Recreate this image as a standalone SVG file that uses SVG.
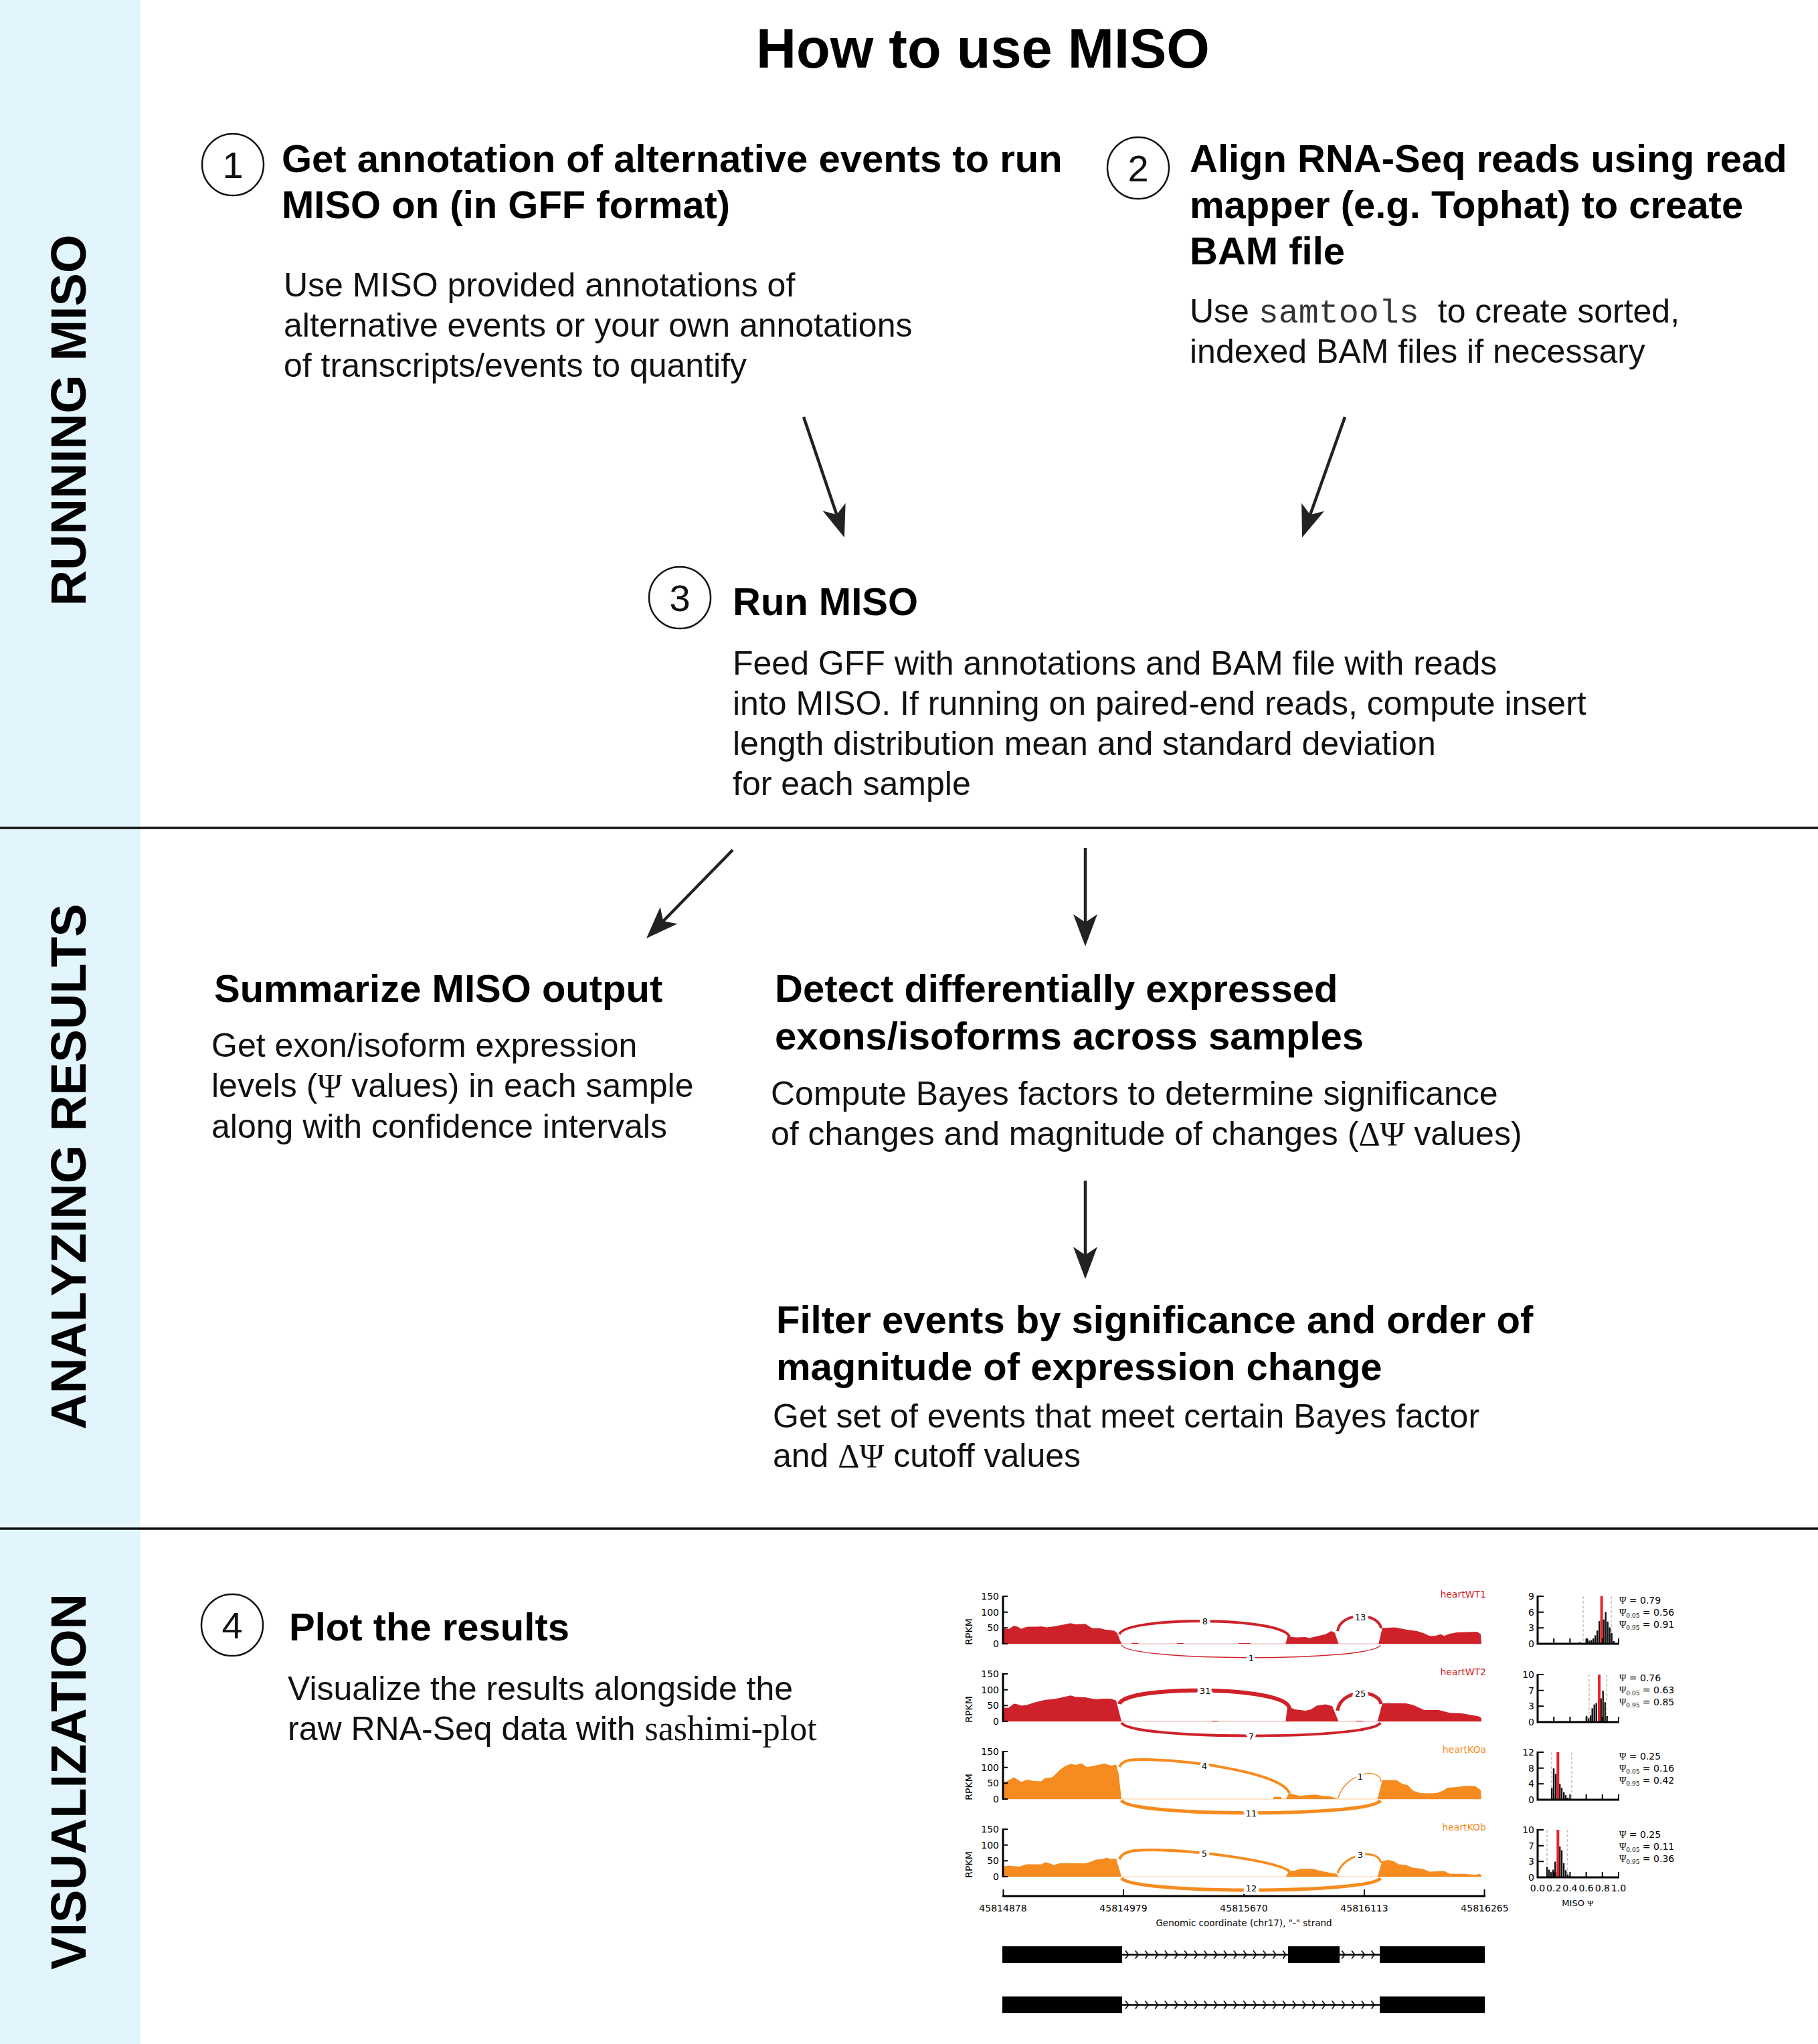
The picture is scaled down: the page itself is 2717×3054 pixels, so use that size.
<svg xmlns="http://www.w3.org/2000/svg" width="2717" height="3054" viewBox="0 0 2717 3054">
<style>
.h{font-family:"Liberation Sans",Arial,Helvetica,sans-serif;font-weight:bold;font-size:58px;fill:#000}
.t{font-family:"Liberation Sans",Arial,Helvetica,sans-serif;font-weight:bold;font-size:83px;fill:#000}
.b{font-family:"Liberation Sans",Arial,Helvetica,sans-serif;font-size:50px;fill:#111}
.side{font-family:"Liberation Sans",Arial,Helvetica,sans-serif;font-weight:bold;font-size:74px;fill:#000;text-anchor:middle}
.num{font-family:"Liberation Sans",Arial,Helvetica,sans-serif;font-size:56px;fill:#111;text-anchor:middle}
.mono{font-family:"Liberation Mono","Courier New",monospace;fill:#333}
.gr{font-family:"Liberation Serif","DejaVu Serif",serif}
.sash{font-family:"Liberation Serif","DejaVu Serif",serif;font-size:52px}
.circ{fill:none;stroke:#111;stroke-width:2.5}
.arr{stroke:#222;stroke-width:4.5;fill:none;marker-end:url(#ah)}
.sa{font-family:"DejaVu Sans",sans-serif;font-size:14px;fill:#000}
.ra{text-anchor:end}
.mid{text-anchor:middle}
.jl{font-family:"DejaVu Sans",sans-serif;font-size:13px;fill:#000;text-anchor:middle;dominant-baseline:central;paint-order:stroke;stroke:#fff;stroke-width:9px;stroke-linejoin:round}
.ax{stroke:#000;stroke-width:3;fill:none}
.tk{stroke:#000;stroke-width:2;fill:none}
.red{fill:#cf2129}
.org{fill:#f68b1f}
.redl{stroke:#cf2129;fill:none}
.orgl{stroke:#f68b1f;fill:none}
.zr{stroke:#f5c9c9;stroke-width:1.5}
.zo{stroke:#fcdcbd;stroke-width:1.5}
.bar{fill:#111}
.ci{stroke:#c4c4c4;stroke-width:1.6;stroke-dasharray:4 3}
.mean{fill:#e8232a}
.sub{font-family:"DejaVu Serif",serif;font-size:9px}
</style>
<defs>
<marker id="ah" markerUnits="userSpaceOnUse" viewBox="0 0 48 40" refX="12" refY="20" markerWidth="48" markerHeight="40" orient="auto">
<path d="M0,2 L48,20 L0,38 L12,20 Z" fill="#222"/>
</marker>
<pattern id="chev" patternUnits="userSpaceOnUse" x="1677" y="2908" width="14.7" height="75">
<rect x="0" y="11.3" width="14.7" height="2.5" fill="#000"/>
<path d="M5,6.5 L9.5,12.5 L5,18.5" fill="none" stroke="#000" stroke-width="1.6"/>
</pattern>
</defs>

<rect id="band" x="0" y="0" width="210" height="3054" fill="#e2f4fc"/>
<rect x="210" y="0" width="2507" height="3054" fill="#fff"/>

<g id="separators">
<line x1="0" y1="1237" x2="2717" y2="1237" stroke="#111" stroke-width="3.5"/>
<line x1="0" y1="2284" x2="2717" y2="2284" stroke="#111" stroke-width="3.5"/>
</g>

<g id="section-labels">
<text class="side" transform="translate(128,628) rotate(-90)">RUNNING MISO</text>
<text class="side" transform="translate(128,1743) rotate(-90)">ANALYZING RESULTS</text>
<text class="side" transform="translate(128,2662) rotate(-90)">VISUALIZATION</text>
</g>

<g id="title">
<text class="t" x="1469" y="101" text-anchor="middle">How to use MISO</text>
</g>

<g id="step1">
<circle class="circ" cx="348" cy="246" r="46"/>
<text class="num" x="348" y="266">1</text>
<text class="h" x="421" y="257">Get annotation of alternative events to run</text>
<text class="h" x="421" y="326">MISO on (in GFF format)</text>
<text class="b" x="424" y="443">Use MISO provided annotations of</text>
<text class="b" x="424" y="503">alternative events or your own annotations</text>
<text class="b" x="424" y="563">of transcripts/events to quantify</text>
</g>

<g id="step2">
<circle class="circ" cx="1701" cy="251" r="46"/>
<text class="num" x="1701" y="271">2</text>
<text class="h" x="1778" y="257">Align RNA-Seq reads using read</text>
<text class="h" x="1778" y="326">mapper (e.g. Tophat) to create</text>
<text class="h" x="1778" y="395">BAM file</text>
<text class="b" x="1778" y="482">Use <tspan class="mono">samtools</tspan><tspan dx="14"> to create sorted,</tspan></text>
<text class="b" x="1778" y="542">indexed BAM files if necessary</text>
</g>

<g id="step3">
<circle class="circ" cx="1016" cy="893" r="46"/>
<text class="num" x="1016" y="913">3</text>
<text class="h" x="1095" y="919">Run MISO</text>
<text class="b" x="1095" y="1008">Feed GFF with annotations and BAM file with reads</text>
<text class="b" x="1095" y="1068">into MISO. If running on paired-end reads, compute insert</text>
<text class="b" x="1095" y="1128">length distribution mean and standard deviation</text>
<text class="b" x="1095" y="1188">for each sample</text>
</g>

<g id="summarize">
<text class="h" x="320" y="1497">Summarize MISO output</text>
<text class="b" x="316" y="1579">Get exon/isoform expression</text>
<text class="b" x="316" y="1639">levels (<tspan class="gr">Ψ</tspan> values) in each sample</text>
<text class="b" x="316" y="1700">along with confidence intervals</text>
</g>

<g id="detect">
<text class="h" x="1158" y="1497">Detect differentially expressed</text>
<text class="h" x="1158" y="1568">exons/isoforms across samples</text>
<text class="b" x="1152" y="1651">Compute Bayes factors to determine significance</text>
<text class="b" x="1152" y="1711">of changes and magnitude of changes (<tspan class="gr">ΔΨ</tspan> values)</text>
</g>

<g id="filter">
<text class="h" x="1160" y="1992">Filter events by significance and order of</text>
<text class="h" x="1160" y="2062">magnitude of expression change</text>
<text class="b" x="1155" y="2133">Get set of events that meet certain Bayes factor</text>
<text class="b" x="1155" y="2192">and <tspan class="gr">ΔΨ</tspan> cutoff values</text>
</g>

<g id="step4">
<circle class="circ" cx="347" cy="2428" r="46"/>
<text class="num" x="347" y="2448">4</text>
<text class="h" x="432" y="2451">Plot the results</text>
<text class="b" x="430" y="2540">Visualize the results alongside the</text>
<text class="b" x="430" y="2600">raw RNA-Seq data with <tspan class="sash">sashimi-plot</tspan></text>
</g>

<g id="connectors">
<line class="arr" x1="1201" y1="623" x2="1250.4" y2="768.9"/>
<line class="arr" x1="2010" y1="623" x2="1958.1" y2="769.1"/>
<line class="arr" x1="1095" y1="1270" x2="991.2" y2="1376.3"/>
<line class="arr" x1="1622" y1="1267" x2="1622" y2="1378"/>
<line class="arr" x1="1622" y1="1764" x2="1622" y2="1875"/>
</g>

<g id="sashimi-plot">
<!-- panel 1 heartWT1 -->
<g id="panel-wt1">
<line class="zr" x1="1499" y1="2456" x2="2214" y2="2456"/>
<path class="red" d="M1499,2456 L1499,2433 L1507,2434.2 L1515.4,2429 L1520.8,2430.5 L1526.3,2433.8 L1531.7,2431.4 L1537.2,2430.5 L1550.8,2430.5 L1556.2,2430 L1564.4,2431.4 L1575.3,2430 L1586.2,2428.1 L1599.8,2425.3 L1608,2427.1 L1621.6,2426.2 L1632.5,2432.8 L1643.4,2432.8 L1651.6,2434.7 L1665.2,2436.6 L1669.6,2439.9 L1676.1,2456 Z M1921.4,2456 L1924.1,2445.6 L1937.7,2446.5 L1951.3,2446.1 L1956.8,2447.5 L1965,2445.6 L1981.3,2441.8 L1989.5,2437.1 L1994.9,2439.4 L2000.4,2456 Z M2060.3,2456 L2065.8,2432.4 L2084.8,2431.4 L2101.2,2434.7 L2117.5,2437.1 L2128.5,2440.4 L2136.6,2444.2 L2144.8,2444.2 L2153,2441.8 L2158.4,2444.2 L2166.6,2440.9 L2177.5,2439 L2193.8,2438.5 L2207.5,2438 L2212.9,2441.8 L2214,2456 Z M1690,2456 L1692,2454.8 L1700,2454.8 L1702,2456 Z M1758,2456 L1760,2455 L1768,2455 L1770,2456 Z M1850,2456 L1852,2455 L1868,2455 L1870,2456 Z"/>
<path class="redl" stroke-width="4" d="M1673,2442 C1680,2415 1920,2415 1927,2446"/>
<path class="redl" stroke-width="4" d="M1999,2437 C2003,2408 2060,2408 2064,2433"/>
<path class="redl" stroke-width="1.5" d="M1676,2458 C1690,2483 2050,2483 2063,2458"/>
<text class="jl" x="1801" y="2422">8</text>
<text class="jl" x="2033" y="2416">13</text>
<text class="jl" x="1870" y="2477">1</text>
<text class="sa ra" x="2221" y="2387" fill="#cf2129" style="fill:#cf2129">heartWT1</text>
</g>
<!-- panel 2 heartWT2 -->
<g id="panel-wt2">
<line class="zr" x1="1499" y1="2572" x2="2214" y2="2572"/>
<path class="red" d="M1499,2572 L1499,2551.4 L1507.2,2551.7 L1515.4,2545.5 L1520.8,2546.5 L1526.3,2548.4 L1534.4,2547.4 L1545.3,2544.1 L1561.7,2539.8 L1572.6,2538.9 L1583.5,2537 L1599.8,2533.2 L1608,2535.6 L1621.6,2536.1 L1632.5,2538 L1638,2538.9 L1648.9,2538 L1659.8,2538 L1668,2540.8 L1676.1,2572 Z M1921.4,2572 L1924.1,2549.3 L1935,2554 L1951.3,2555.9 L1959.5,2554 L1967.7,2548.4 L1981.3,2546.5 L1991.1,2549.3 L2000.4,2572 Z M2058.7,2572 L2065.8,2545 L2101.2,2545 L2112.1,2547.4 L2128.5,2555 L2150.2,2555 L2166.6,2559.2 L2183,2559.7 L2199.3,2562.5 L2210.2,2564.4 L2214,2567.3 L2214,2572 Z M1810,2572 L1812,2571 L1820,2571 L1822,2572 Z M2026,2572 L2028,2571 L2036,2571 L2038,2572 Z"/>
<path class="redl" stroke-width="6" d="M1673,2546 C1680,2518 1920,2518 1927,2552"/>
<path class="redl" stroke-width="5" d="M1999,2556 C2003,2523 2060,2523 2064,2546"/>
<path class="redl" stroke-width="4" d="M1676,2574 C1690,2600 2050,2600 2063,2574"/>
<text class="jl" x="1801" y="2526">31</text>
<text class="jl" x="2033" y="2530">25</text>
<text class="jl" x="1870" y="2594">7</text>
<text class="sa ra" x="2221" y="2503" style="fill:#cf2129">heartWT2</text>
</g>
<!-- panel 3 heartKOa -->
<g id="panel-koa">
<line class="zo" x1="1499" y1="2688" x2="2214" y2="2688"/>
<path class="org" d="M1499,2688 L1499,2663.9 L1507.2,2660.1 L1515.4,2655.4 L1526.3,2662.5 L1534.4,2659.1 L1545.3,2661 L1556.2,2661.5 L1561.7,2656.8 L1572.6,2655.4 L1583.5,2645 L1591.7,2638.8 L1599.8,2635.5 L1608,2636.9 L1616.2,2634.6 L1624.4,2640.2 L1635.3,2638.3 L1643.4,2636.4 L1651.6,2635 L1659.8,2637.9 L1668,2636.4 L1671.8,2650.2 L1676.1,2688 Z M1902.3,2688 L1904,2684.7 L1914,2684.7 L1915.9,2688 Z M1921.4,2688 L1926.8,2679 L1935,2681.4 L1943.2,2683.3 L1951.3,2682.3 L1959.5,2681.4 L1967.7,2681.4 L1975.9,2683.3 L1986.8,2683.7 L2000.4,2688 Z M2058.7,2688 L2065.8,2659.6 L2074,2660.1 L2087.6,2660.1 L2095.7,2665.3 L2103.9,2667.2 L2112.1,2675.7 L2123,2679 L2133.9,2679.5 L2147.5,2679 L2155.7,2675.7 L2163.9,2671 L2177.5,2670 L2188.4,2668.6 L2204.7,2668.6 L2212.9,2674.8 L2214,2688 Z"/>
<path class="orgl" stroke-width="4" d="M1673,2640 C1678,2628 1695,2629 1715,2629 C1790,2631 1915,2650 1927,2679"/>
<path class="orgl" stroke-width="1.5" d="M2000,2686 C2012,2648 2062,2640 2064,2662"/>
<path class="orgl" stroke-width="5" d="M1676,2690 C1690,2715 2050,2715 2063,2690"/>
<text class="jl" x="1800" y="2638">4</text>
<text class="jl" x="2033" y="2654">1</text>
<text class="jl" x="1870" y="2709">11</text>
<text class="sa ra" x="2221" y="2619" style="fill:#f68b1f">heartKOa</text>
</g>
<!-- panel 4 heartKOb -->
<g id="panel-kob">
<line class="zo" x1="1499" y1="2804" x2="2214" y2="2804"/>
<path class="org" d="M1499,2804 L1499,2788.9 L1507.2,2787.4 L1523.5,2788.9 L1534.4,2785.6 L1556.2,2785.6 L1562.8,2782.2 L1575.3,2786.5 L1583.5,2784.1 L1605.3,2784.1 L1621.6,2784.1 L1629.8,2781.8 L1638,2778.5 L1648.9,2777.5 L1653.2,2775.6 L1659.8,2777.5 L1668,2777 L1676.1,2804 Z M1921.4,2804 L1926.8,2795.5 L1935,2795 L1943.2,2792.2 L1962.2,2792.2 L1970.4,2794.5 L1986.8,2797.9 L1997.6,2799.7 L2000.4,2804 Z M2058.7,2804 L2065.8,2780.4 L2074,2778.9 L2082.1,2780.4 L2090.3,2785.6 L2101.2,2786.5 L2112.1,2790.8 L2125.7,2792.2 L2136.6,2796.4 L2158.4,2795.5 L2166.6,2799.7 L2188.4,2799.7 L2204.7,2801.2 L2210.2,2799.7 L2214,2801.2 L2214,2804 Z"/>
<path class="orgl" stroke-width="4" d="M1673,2778 C1678,2764 1700,2764 1725,2764 C1800,2765 1910,2782 1927,2796"/>
<path class="orgl" stroke-width="3" d="M1999,2799 C2008,2770 2060,2760 2064,2784"/>
<path class="orgl" stroke-width="5" d="M1676,2806 C1690,2830 2050,2830 2063,2806"/>
<text class="jl" x="1800" y="2769">5</text>
<text class="jl" x="2033" y="2771">3</text>
<text class="jl" x="1870" y="2821">12</text>
<text class="sa ra" x="2221" y="2735" style="fill:#f68b1f">heartKOb</text>
</g>
<!-- y axes -->
<g id="sashimi-axes">
<path class="ax" d="M1499,2384 V2457 M1499,2500 V2573 M1499,2616 V2689 M1499,2732 V2805"/>
<path class="tk" d="M1499,2385 h7 M1499,2408.7 h7 M1499,2432.3 h7 M1499,2456 h7 M1499,2501 h7 M1499,2524.7 h7 M1499,2548.3 h7 M1499,2572 h7 M1499,2617 h7 M1499,2640.7 h7 M1499,2664.3 h7 M1499,2688 h7 M1499,2733 h7 M1499,2756.7 h7 M1499,2780.3 h7 M1499,2804 h7"/>
<g class="sa ra">
<text x="1493" y="2390">150</text><text x="1493" y="2413.7">100</text><text x="1493" y="2437.3">50</text><text x="1493" y="2461">0</text>
<text x="1493" y="2506">150</text><text x="1493" y="2529.7">100</text><text x="1493" y="2553.3">50</text><text x="1493" y="2577">0</text>
<text x="1493" y="2622">150</text><text x="1493" y="2645.7">100</text><text x="1493" y="2669.3">50</text><text x="1493" y="2693">0</text>
<text x="1493" y="2738">150</text><text x="1493" y="2761.7">100</text><text x="1493" y="2785.3">50</text><text x="1493" y="2809">0</text>
</g>
<g class="sa mid">
<text transform="translate(1453,2438) rotate(-90)">RPKM</text>
<text transform="translate(1453,2554) rotate(-90)">RPKM</text>
<text transform="translate(1453,2670) rotate(-90)">RPKM</text>
<text transform="translate(1453,2786) rotate(-90)">RPKM</text>
</g>
<line class="ax" x1="1498" y1="2833" x2="2220" y2="2833" stroke-width="3.5"/>
<path class="tk" d="M1499.5,2833 V2823 M1679,2833 V2823 M1859,2833 V2830 M2039,2833 V2823 M2218.5,2833 V2823"/>
<g class="sa mid">
<text x="1499" y="2856">45814878</text>
<text x="1679" y="2856">45814979</text>
<text x="1859" y="2856">45815670</text>
<text x="2039" y="2856">45816113</text>
<text x="2219" y="2856">45816265</text>
<text x="1859" y="2878" style="font-size:13.5px">Genomic coordinate (chr17), "-" strand</text>
</g>
</g>
<!-- gene structures -->
<g id="isoforms">
<rect x="1677" y="2908" width="248" height="25" fill="url(#chev)"/>
<rect x="2002" y="2908" width="60" height="25" fill="url(#chev)"/>
<rect x="1677" y="2983" width="385" height="25" fill="url(#chev)"/>
<rect x="1498" y="2908" width="179" height="25" fill="#000"/>
<rect x="1925" y="2908" width="77" height="25" fill="#000"/>
<rect x="2062" y="2908" width="157" height="25" fill="#000"/>
<rect x="1498" y="2983" width="179" height="25" fill="#000"/>
<rect x="2062" y="2983" width="157" height="25" fill="#000"/>
</g>
<!-- histograms -->
<g id="hist1">
<line class="ci" x1="2366" y1="2385" x2="2366" y2="2456"/>
<line class="ci" x1="2408" y1="2385" x2="2408" y2="2456"/>
<g class="bar">
<rect x="2360" y="2453.6" width="2.4" height="2.4"/><rect x="2371" y="2448.1" width="2.4" height="7.9"/><rect x="2374" y="2451.3" width="2.4" height="4.7"/><rect x="2377" y="2450.5" width="2.4" height="5.5"/><rect x="2380" y="2448.1" width="2.4" height="7.9"/><rect x="2383" y="2443.4" width="2.4" height="12.6"/><rect x="2386" y="2436.3" width="2.4" height="19.7"/><rect x="2389" y="2422.1" width="2.4" height="33.9"/><rect x="2395.5" y="2419.7" width="2.4" height="36.3"/><rect x="2398.5" y="2408.7" width="2.4" height="47.3"/><rect x="2401.5" y="2422.9" width="2.4" height="33.1"/><rect x="2404.5" y="2431.5" width="2.4" height="24.5"/><rect x="2407.5" y="2440.2" width="2.4" height="15.8"/><rect x="2410.5" y="2452" width="2.4" height="4"/>
</g>
<rect class="mean" x="2391.6" y="2385" width="4" height="71"/>
</g>
<g id="hist2">
<line class="ci" x1="2375" y1="2502" x2="2375" y2="2573"/>
<line class="ci" x1="2401" y1="2502" x2="2401" y2="2573"/>
<g class="bar">
<rect x="2370" y="2563.8" width="2.4" height="9.2"/><rect x="2373" y="2567.3" width="2.4" height="5.7"/><rect x="2376" y="2563.1" width="2.4" height="9.9"/><rect x="2378.5" y="2552.4" width="2.4" height="20.6"/><rect x="2381.5" y="2546.7" width="2.4" height="26.3"/><rect x="2384.5" y="2544.6" width="2.4" height="28.4"/><rect x="2391.5" y="2537.5" width="2.4" height="35.5"/><rect x="2394.5" y="2526.1" width="2.4" height="46.9"/><rect x="2397.5" y="2543.2" width="2.4" height="29.8"/><rect x="2400.5" y="2563.8" width="2.4" height="9.2"/>
</g>
<rect class="mean" x="2388" y="2502" width="4" height="71"/>
</g>
<g id="hist3">
<line class="ci" x1="2318.7" y1="2618" x2="2318.7" y2="2689"/>
<line class="ci" x1="2349" y1="2618" x2="2349" y2="2689"/>
<g class="bar">
<rect x="2318" y="2671.8" width="2.4" height="17.2"/><rect x="2320.8" y="2642.2" width="2.4" height="46.8"/><rect x="2323.8" y="2650.5" width="2.4" height="38.5"/><rect x="2330" y="2665.3" width="2.4" height="23.7"/><rect x="2332.8" y="2671.2" width="2.4" height="17.8"/><rect x="2336" y="2677.8" width="2.4" height="11.2"/><rect x="2338.8" y="2681.9" width="2.4" height="7.1"/><rect x="2341.8" y="2686" width="2.4" height="3"/><rect x="2346" y="2687.2" width="2.4" height="1.8"/>
</g>
<rect class="mean" x="2326.3" y="2618" width="4" height="71"/>
</g>
<g id="hist4">
<line class="ci" x1="2312" y1="2734" x2="2312" y2="2805"/>
<line class="ci" x1="2342.4" y1="2734" x2="2342.4" y2="2805"/>
<g class="bar">
<rect x="2311" y="2789.4" width="2.4" height="15.6"/><rect x="2314" y="2793.6" width="2.4" height="11.4"/><rect x="2317" y="2797.2" width="2.4" height="7.8"/><rect x="2320" y="2793.6" width="2.4" height="11.4"/><rect x="2323" y="2781.6" width="2.4" height="23.4"/><rect x="2326" y="2797.2" width="2.4" height="7.8"/><rect x="2330" y="2758.8" width="2.4" height="46.2"/><rect x="2332.8" y="2764.5" width="2.4" height="40.5"/><rect x="2335.8" y="2783.7" width="2.4" height="21.3"/><rect x="2338.8" y="2794.3" width="2.4" height="10.7"/><rect x="2341.8" y="2800.7" width="2.4" height="4.3"/>
</g>
<rect class="mean" x="2326.3" y="2734" width="4" height="71"/>
</g>
<g id="hist-axes">
<path class="ax" stroke-width="3.5" d="M2298,2384 V2456 H2420 M2298,2501 V2573 H2420 M2298,2617 V2689 H2420 M2298,2733 V2805 H2420"/>
<path class="tk" d="M2298,2385 h9 M2298,2408.7 h9 M2298,2432.3 h9 M2298,2502 h9 M2298,2525.7 h9 M2298,2549.3 h9 M2298,2618 h9 M2298,2641.7 h9 M2298,2665.3 h9 M2298,2734 h9 M2298,2757.7 h9 M2298,2781.3 h9
M2322.2,2456 v-8 M2346.4,2456 v-8 M2370.6,2456 v-8 M2394.8,2456 v-8 M2419,2456 v-8
M2322.2,2573 v-8 M2346.4,2573 v-8 M2370.6,2573 v-8 M2394.8,2573 v-8 M2419,2573 v-8
M2322.2,2689 v-8 M2346.4,2689 v-8 M2370.6,2689 v-8 M2394.8,2689 v-8 M2419,2689 v-8
M2322.2,2805 v-8 M2346.4,2805 v-8 M2370.6,2805 v-8 M2394.8,2805 v-8 M2419,2805 v-8"/>
<g class="sa ra">
<text x="2293" y="2390">9</text><text x="2293" y="2413.7">6</text><text x="2293" y="2437.3">3</text><text x="2293" y="2461">0</text>
<text x="2293" y="2507">10</text><text x="2293" y="2530.7">7</text><text x="2293" y="2554.3">3</text><text x="2293" y="2578">0</text>
<text x="2293" y="2623">12</text><text x="2293" y="2646.7">8</text><text x="2293" y="2670.3">4</text><text x="2293" y="2694">0</text>
<text x="2293" y="2739">10</text><text x="2293" y="2762.7">7</text><text x="2293" y="2786.3">3</text><text x="2293" y="2810">0</text>
</g>
<g class="sa mid">
<text x="2298" y="2826">0.0</text><text x="2322.2" y="2826">0.2</text><text x="2346.4" y="2826">0.4</text><text x="2370.6" y="2826">0.6</text><text x="2394.8" y="2826">0.8</text><text x="2419" y="2826">1.0</text>
<text x="2358" y="2848" style="font-size:13px">MISO <tspan class="gr">Ψ</tspan></text>
</g>
<g class="sa">
<text x="2420" y="2396"><tspan class="gr">Ψ</tspan> = 0.79</text>
<text x="2420" y="2414"><tspan class="gr">Ψ</tspan><tspan class="sub" dy="3">0.05</tspan><tspan dy="-3"> = 0.56</tspan></text>
<text x="2420" y="2432"><tspan class="gr">Ψ</tspan><tspan class="sub" dy="3">0.95</tspan><tspan dy="-3"> = 0.91</tspan></text>
<text x="2420" y="2512"><tspan class="gr">Ψ</tspan> = 0.76</text>
<text x="2420" y="2530"><tspan class="gr">Ψ</tspan><tspan class="sub" dy="3">0.05</tspan><tspan dy="-3"> = 0.63</tspan></text>
<text x="2420" y="2548"><tspan class="gr">Ψ</tspan><tspan class="sub" dy="3">0.95</tspan><tspan dy="-3"> = 0.85</tspan></text>
<text x="2420" y="2629"><tspan class="gr">Ψ</tspan> = 0.25</text>
<text x="2420" y="2647"><tspan class="gr">Ψ</tspan><tspan class="sub" dy="3">0.05</tspan><tspan dy="-3"> = 0.16</tspan></text>
<text x="2420" y="2665"><tspan class="gr">Ψ</tspan><tspan class="sub" dy="3">0.95</tspan><tspan dy="-3"> = 0.42</tspan></text>
<text x="2420" y="2746"><tspan class="gr">Ψ</tspan> = 0.25</text>
<text x="2420" y="2764"><tspan class="gr">Ψ</tspan><tspan class="sub" dy="3">0.05</tspan><tspan dy="-3"> = 0.11</tspan></text>
<text x="2420" y="2782"><tspan class="gr">Ψ</tspan><tspan class="sub" dy="3">0.95</tspan><tspan dy="-3"> = 0.36</tspan></text>
</g>
</g>
</g>
</svg>
